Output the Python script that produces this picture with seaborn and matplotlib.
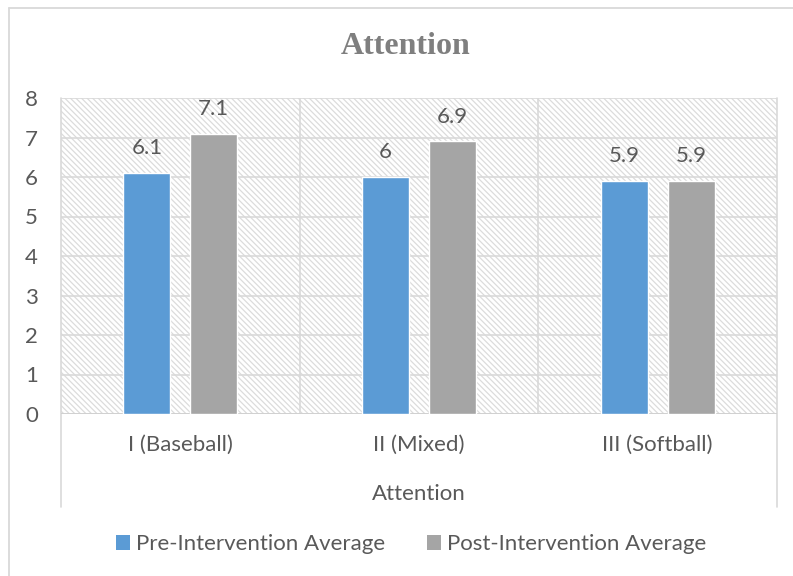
import matplotlib
matplotlib.use("Agg")
import matplotlib.pyplot as plt
import seaborn as sns
import pandas as pd
from matplotlib.patches import Rectangle, Patch
from matplotlib.lines import Line2D

categories = ["I (Baseball)", "II (Mixed)", "III (Softball)"]
series_names = ["Pre-Intervention Average", "Post-Intervention Average"]
pre_values = [6.1, 6.0, 5.9]
post_values = [7.1, 6.9, 5.9]
y_ticks = [0, 1, 2, 3, 4, 5, 6, 7, 8]
title_text = "Attention"
x_label = "Attention"

colors = ["#5B9BD5", "#A5A5A5"]
text_color = "#595959"
grid_color = "#D9D9D9"

df = pd.DataFrame({
    "Group": categories * 2,
    "Series": [series_names[0]] * 3 + [series_names[1]] * 3,
    "Value": pre_values + post_values,
})

sns.set_theme(style="white")
plt.rcParams["font.family"] = ["Lato", "DejaVu Sans"]
plt.rcParams["hatch.linewidth"] = 0.9
plt.rcParams["hatch.color"] = "#DCDCDC"

fig = plt.figure(figsize=(7.93, 5.76), dpi=100)
ax = fig.add_axes([61 / 793, 1 - 414 / 576, 716 / 793, 316 / 576])

# hatched plot background
bg = Rectangle((0, 0), 1, 1, transform=ax.transAxes, facecolor="white",
               edgecolor="#DCDCDC", linewidth=0, hatch="\\\\\\\\\\\\", zorder=0)
ax.add_patch(bg)

sns.barplot(data=df, x="Group", y="Value", hue="Series", palette=colors,
            width=0.561, gap=0.3, ax=ax, legend=False, zorder=3,
            saturation=1)

ax.set_xlim(-0.5, 2.5)
ax.set_ylim(0, 8)
ax.set_yticks(y_ticks)
ax.set_yticklabels([str(t) for t in y_ticks])
ax.set_axisbelow(False)

for t in y_ticks:
    ax.axhline(t, color=grid_color, lw=1.2, zorder=1)
for xv in [0.5, 1.5]:
    ax.axvline(xv, color=grid_color, lw=1.2, zorder=1)
for xv in [-0.5, 2.5]:
    ax.axvline(xv, ymin=-0.294, ymax=1, color=grid_color, lw=1.2,
               zorder=1, clip_on=False)
ax.axhline(0, color="#D0D0D0", lw=1.3, zorder=2)

for s in ax.spines.values():
    s.set_visible(False)

for cont in ax.containers:
    ax.bar_label(cont, fmt="%g", padding=10.5, fontsize=16, color=text_color)

ax.tick_params(axis="both", length=0, labelsize=16, labelcolor=text_color)
ax.tick_params(axis="x", pad=15)
ax.tick_params(axis="y", pad=16.5)
ax.set_xlabel(x_label, fontsize=16, color=text_color, labelpad=21)
ax.set_ylabel("")

fig.text(406 / 793, 1 - 47 / 576, title_text, ha="center", va="center",
         fontsize=23, fontweight="bold", color="#7F7F7F",
         family=["Liberation Serif", "DejaVu Serif"])

handles = [Patch(facecolor=c, edgecolor="none") for c in colors]
fig.legend(handles, series_names, loc="center", ncol=2,
           bbox_to_anchor=(411 / 793, 1 - 544 / 576), frameon=False,
           fontsize=16, labelcolor=text_color, handlelength=0.65,
           handleheight=0.65, handletextpad=0.25, columnspacing=1.9)

# outer chart border (only top and left visible)
fig.add_artist(Line2D([9 / 793, 1.0], [1 - 8 / 576, 1 - 8 / 576],
                      transform=fig.transFigure, color="#D9D9D9", lw=1.3))
fig.add_artist(Line2D([9 / 793, 9 / 793], [0.0, 1 - 8 / 576],
                      transform=fig.transFigure, color="#D9D9D9", lw=1.3))

fig.savefig("out.png", dpi=100, facecolor="white")
